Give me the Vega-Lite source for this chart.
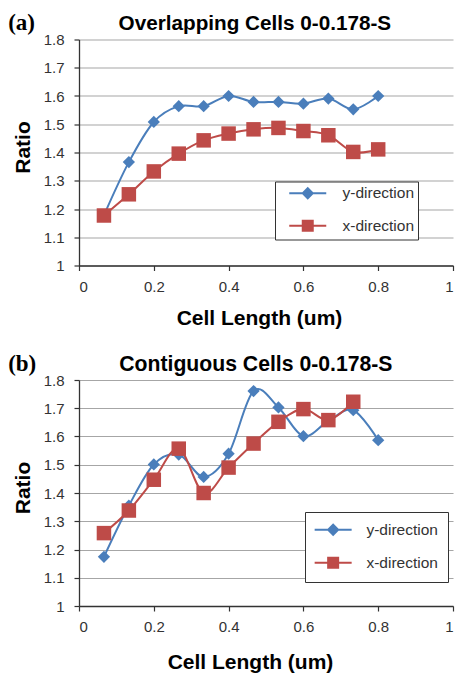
{
  "$schema": "https://vega.github.io/schema/vega-lite/v6.json",
  "padding": {"left": 8, "top": 11.5, "right": 2, "bottom": 2},
  "spacing": 24.5,
  "datasets": {
    "a": [
      {"dir": "y-direction", "x": 0.0667, "y": 1.178},
      {"dir": "y-direction", "x": 0.1333, "y": 1.366},
      {"dir": "y-direction", "x": 0.2, "y": 1.508},
      {"dir": "y-direction", "x": 0.2667, "y": 1.564},
      {"dir": "y-direction", "x": 0.3333, "y": 1.564},
      {"dir": "y-direction", "x": 0.4, "y": 1.6},
      {"dir": "y-direction", "x": 0.4667, "y": 1.579},
      {"dir": "y-direction", "x": 0.5333, "y": 1.579},
      {"dir": "y-direction", "x": 0.6, "y": 1.573},
      {"dir": "y-direction", "x": 0.6667, "y": 1.591},
      {"dir": "y-direction", "x": 0.7333, "y": 1.553},
      {"dir": "y-direction", "x": 0.8, "y": 1.6},
      {"dir": "x-direction", "x": 0.0667, "y": 1.177},
      {"dir": "x-direction", "x": 0.1333, "y": 1.252},
      {"dir": "x-direction", "x": 0.2, "y": 1.333},
      {"dir": "x-direction", "x": 0.2667, "y": 1.396},
      {"dir": "x-direction", "x": 0.3333, "y": 1.443},
      {"dir": "x-direction", "x": 0.4, "y": 1.467},
      {"dir": "x-direction", "x": 0.4667, "y": 1.482},
      {"dir": "x-direction", "x": 0.5333, "y": 1.487},
      {"dir": "x-direction", "x": 0.6, "y": 1.476},
      {"dir": "x-direction", "x": 0.6667, "y": 1.461},
      {"dir": "x-direction", "x": 0.7333, "y": 1.402},
      {"dir": "x-direction", "x": 0.8, "y": 1.411}
    ],
    "b": [
      {"dir": "y-direction", "x": 0.0667, "y": 1.174},
      {"dir": "y-direction", "x": 0.1333, "y": 1.355},
      {"dir": "y-direction", "x": 0.2, "y": 1.501},
      {"dir": "y-direction", "x": 0.2667, "y": 1.536},
      {"dir": "y-direction", "x": 0.3333, "y": 1.457},
      {"dir": "y-direction", "x": 0.4, "y": 1.539},
      {"dir": "y-direction", "x": 0.4667, "y": 1.761},
      {"dir": "y-direction", "x": 0.5333, "y": 1.703},
      {"dir": "y-direction", "x": 0.6, "y": 1.601},
      {"dir": "y-direction", "x": 0.6667, "y": 1.655},
      {"dir": "y-direction", "x": 0.7333, "y": 1.693},
      {"dir": "y-direction", "x": 0.8, "y": 1.587},
      {"dir": "x-direction", "x": 0.0667, "y": 1.258},
      {"dir": "x-direction", "x": 0.1333, "y": 1.338},
      {"dir": "x-direction", "x": 0.2, "y": 1.447},
      {"dir": "x-direction", "x": 0.2667, "y": 1.557},
      {"dir": "x-direction", "x": 0.3333, "y": 1.4},
      {"dir": "x-direction", "x": 0.4, "y": 1.49},
      {"dir": "x-direction", "x": 0.4667, "y": 1.575},
      {"dir": "x-direction", "x": 0.5333, "y": 1.652},
      {"dir": "x-direction", "x": 0.6, "y": 1.697},
      {"dir": "x-direction", "x": 0.6667, "y": 1.658},
      {"dir": "x-direction", "x": 0.7333, "y": 1.723}
    ]
  },
  "config": {
    "view": {"stroke": null},
    "font": "Liberation Sans",
    "axis": {
      "labelFont": "Liberation Sans", "labelFontSize": 15, "labelColor": "#333", "labelOverlap": false,
      "titleFont": "Liberation Sans", "titleFontSize": 21, "titleFontWeight": "bold", "titleColor": "#000",
      "domainColor": "#333", "domainWidth": 1.3, "tickColor": "#333", "tickSize": 5, "tickWidth": 1.2
    },
    "axisX": {"grid": false, "labelPadding": 8.5, "titlePadding": 13.5},
    "axisY": {"grid": true, "gridColor": "#a6a6a6", "gridWidth": 1.2, "labelPadding": 10, "titlePadding": 10, "titleY": 107.5}
  },
  "resolve": {"scale": {"color": "independent"}, "legend": {"color": "independent"}},
  "vconcat": [
    {
      "title": {"text": "(a)", "font": "Liberation Serif", "fontSize": 23, "fontWeight": "bold", "color": "#000", "anchor": "start", "frame": "bounds", "offset": -22.5, "dx": -4},
      "resolve": {"scale": {"color": "independent"}, "legend": {"color": "independent"}},
      "vconcat": [
        {
          "title": {"text": "Overlapping Cells 0-0.178-S", "font": "Liberation Sans", "fontSize": 20.7, "fontWeight": "bold", "color": "#000", "anchor": "middle", "frame": "bounds", "offset": -2, "dx": 22},
          "resolve": {"scale": {"color": "independent"}, "legend": {"color": "independent"}},
          "vconcat": [
            {
              "width": 374, "height": 226,
              "data": {"name": "a"},
              "encoding": {
                "x": {"field": "x", "type": "quantitative", "scale": {"domain": [0, 1]}, "title": "Cell Length (um)", "axis": {"values": [0, 0.2, 0.4, 0.6, 0.8, 1], "format": ".1~f", "titleX": 180}},
                "y": {"field": "y", "type": "quantitative", "scale": {"domain": [1, 1.8]}, "title": "Ratio", "axis": {"values": [1, 1.1, 1.2, 1.3, 1.4, 1.5, 1.6, 1.7, 1.8], "format": ".1~f"}},
                "color": {"field": "dir", "type": "nominal", "scale": {"domain": ["y-direction", "x-direction"], "range": ["#4A7EBB", "#BE4B48"]},
                  "legend": {"title": null, "orient": "none", "legendX": 196, "legendY": 142, "padding": 4, "strokeColor": "#333", "fillColor": "white", "symbolSize": 100, "symbolStrokeWidth": 2, "symbolOffset": 21, "labelOffset": 27, "labelFontSize": 15.5, "labelColor": "#333", "labelFont": "Liberation Sans", "rowPadding": 13.5,
                    "encode": {"symbols": {"update": {"shape": {"signal": "datum.value === 'y-direction' ? 'M-3.7,0H3.7M0,-1L1,0L0,1L-1,0Z' : 'M-3.7,0H3.7M-1,-1H1V1H-1Z'"}, "size": {"value": 100}, "fill": {"signal": "datum.value === 'y-direction' ? '#4A7EBB' : '#BE4B48'"}, "stroke": {"signal": "datum.value === 'y-direction' ? '#4A7EBB' : '#BE4B48'"}, "strokeWidth": {"value": 2}, "opacity": {"value": 1}}}}}}
              },
              "layer": [
                {"mark": {"type": "line", "interpolate": "cardinal", "strokeWidth": 2}},
                {"transform": [{"filter": "datum.dir === 'y-direction'"}], "mark": {"type": "point", "filled": true, "opacity": 1, "shape": "diamond", "size": 150}},
                {"transform": [{"filter": "datum.dir === 'x-direction'"}], "mark": {"type": "point", "filled": true, "opacity": 1, "shape": "square", "size": 210}}
              ]
            }
          ]
        }
      ]
    },
    {
      "title": {"text": "(b)", "font": "Liberation Serif", "fontSize": 23, "fontWeight": "bold", "color": "#000", "anchor": "start", "frame": "bounds", "offset": -22.5, "dx": -4},
      "resolve": {"scale": {"color": "independent"}, "legend": {"color": "independent"}},
      "vconcat": [
        {
          "title": {"text": "Contiguous Cells 0-0.178-S", "font": "Liberation Sans", "fontSize": 21.2, "fontWeight": "bold", "color": "#000", "anchor": "middle", "frame": "bounds", "offset": -2, "dx": 23},
          "resolve": {"scale": {"color": "independent"}, "legend": {"color": "independent"}},
          "vconcat": [
            {
              "width": 374, "height": 226,
              "data": {"name": "b"},
              "encoding": {
                "x": {"field": "x", "type": "quantitative", "scale": {"domain": [0, 1]}, "title": "Cell Length (um)", "axis": {"values": [0, 0.2, 0.4, 0.6, 0.8, 1], "format": ".1~f", "titleX": 171, "titlePadding": 16.5}},
                "y": {"field": "y", "type": "quantitative", "scale": {"domain": [1, 1.8]}, "title": "Ratio", "axis": {"values": [1, 1.1, 1.2, 1.3, 1.4, 1.5, 1.6, 1.7, 1.8], "format": ".1~f"}},
                "color": {"field": "dir", "type": "nominal", "scale": {"domain": ["y-direction", "x-direction"], "range": ["#4A7EBB", "#BE4B48"]},
                  "legend": {"title": null, "orient": "none", "legendX": 226, "legendY": 132, "padding": 10, "strokeColor": "#333", "fillColor": "white", "symbolSize": 100, "symbolStrokeWidth": 2, "symbolOffset": 10.4, "labelOffset": 25.5, "labelFontSize": 15.5, "labelColor": "#333", "labelFont": "Liberation Sans", "rowPadding": 14,
                    "encode": {"symbols": {"update": {"shape": {"signal": "datum.value === 'y-direction' ? 'M-3.7,0H3.7M0,-1L1,0L0,1L-1,0Z' : 'M-3.7,0H3.7M-1,-1H1V1H-1Z'"}, "size": {"value": 100}, "fill": {"signal": "datum.value === 'y-direction' ? '#4A7EBB' : '#BE4B48'"}, "stroke": {"signal": "datum.value === 'y-direction' ? '#4A7EBB' : '#BE4B48'"}, "strokeWidth": {"value": 2}, "opacity": {"value": 1}}}}}}
              },
              "layer": [
                {"mark": {"type": "line", "interpolate": "cardinal", "strokeWidth": 2}},
                {"transform": [{"filter": "datum.dir === 'y-direction'"}], "mark": {"type": "point", "filled": true, "opacity": 1, "shape": "diamond", "size": 150}},
                {"transform": [{"filter": "datum.dir === 'x-direction'"}], "mark": {"type": "point", "filled": true, "opacity": 1, "shape": "square", "size": 210}}
              ]
            }
          ]
        }
      ]
    }
  ]
}
